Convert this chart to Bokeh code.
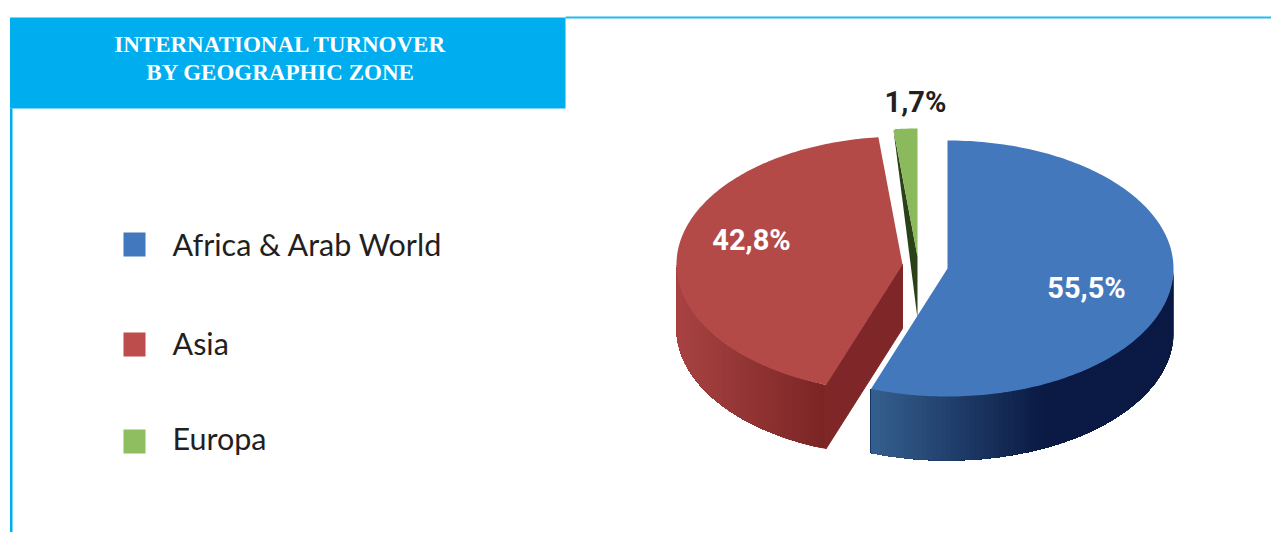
import numpy as np
from bokeh.plotting import figure
from bokeh.models import Range1d
from bokeh.core.properties import value
from bokeh.embed import file_html
from bokeh.resources import INLINE

# ---- data ----
categories = ["Africa & Arab World", "Asia", "Europa"]
shares = [55.5, 42.8, 1.7]
share_labels = ["55,5%", "42,8%", "1,7%"]
title_lines = ["INTERNATIONAL TURNOVER", "BY GEOGRAPHIC ZONE"]

# ---- styles ----
top_colors = ["#4478BD", "#B34A48", "#8ABA5C"]
legend_colors = ["#4279BE", "#BD4D4C", "#8FBE60"]
label_colors = ["#FFFFFF", "#FFFFFF", "#231F20"]
CYAN = "#00AEEF"

# layout in picture pixels; the figure's scales map 1:1 onto the picture
W, H = 1271, 532
A, B, DEPTH = 226, 128, 64
apex = [(947, 268), (902, 264), (917, 256)]
label_pos = [(1086, 287), (751, 239), (915, 101)]
legend_y = [244, 344, 441]
legend_text_y = [243, 342, 437]
grad_side = {0: ("#35608F", "#0A1A44", 872, 1045), 1: ("#A84343", "#7C2525", 677, 825)}

p = figure(width=W, height=H, output_backend="svg", toolbar_location=None,
           x_range=Range1d(0, W), y_range=Range1d(H, 0),
           min_border=0, outline_line_color=None, background_fill_color="white")
p.axis.visible = False
p.grid.visible = False

# frame
p.quad(left=[9.5], right=[565], top=[17], bottom=[108], fill_color=CYAN, line_color=None)
p.quad(left=[565], right=[W], top=[16], bottom=[18], fill_color="#29B9F0", line_color=None)
p.quad(left=[9.5], right=[12], top=[108], bottom=[H], fill_color=CYAN, line_color=None)


def rim(i, t):
    cx, cy = apex[i]
    return cx + A * np.sin(t), cy - B * np.cos(t)


def hexmix(c0, c1, f):
    a = np.array([int(c0[k:k + 2], 16) for k in (1, 3, 5)], float)
    b = np.array([int(c1[k:k + 2], 16) for k in (1, 3, 5)], float)
    m = a + (b - a) * min(max(f, 0), 1)
    return "#%02X%02X%02X" % tuple(int(round(v)) for v in m)


ends = np.cumsum(shares) / 100 * 2 * np.pi
starts = np.concatenate([[0], ends[:-1]])


def draw_side(i, t0, t1):
    # each strip runs on to the end of the wall and is painted over the last, so no seams show
    c0, c1, x0, x1 = grad_side[i]
    ts = np.linspace(t0, t1, 91)
    xs, ys, cs = [], [], []
    for n in range(89):
        seg = ts[n:]
        xa, ya = rim(i, seg)
        xs.append(np.r_[xa, xa[::-1]])
        ys.append(np.r_[ya, ya[::-1] + DEPTH])
        cs.append(hexmix(c0, c1, (xa[0] - x0) / (x1 - x0)))
    p.patches(xs, ys, fill_color=cs, line_color=None)


def draw_top(i):
    ts = np.linspace(starts[i], ends[i], 181)
    x, y = rim(i, ts)
    p.patch(np.r_[apex[i][0], x], np.r_[apex[i][1], y], fill_color=top_colors[i], line_color=None)


# Europa: thin slice with its dark cut face
gx, gy = rim(2, starts[2])
p.patch([gx, apex[2][0], apex[2][0]], [gy, apex[2][1], apex[2][1] + 62],
        fill_color="#2B4218", line_color=None)
draw_top(2)

# Asia
draw_side(1, starts[1], 1.5 * np.pi)
rx, ry = rim(1, starts[1])
p.patch([apex[1][0], rx, rx, apex[1][0]],
        [apex[1][1], ry, ry + DEPTH, apex[1][1] + DEPTH],
        fill_color="#7F2728", line_color="#7F2728", line_width=1)
draw_top(1)

# Africa & Arab World
draw_side(0, 0.5 * np.pi, ends[0])
draw_top(0)

# title
p.text(x=[280, 280], y=[44, 72], text=title_lines, text_color="white",
       text_font=value("Liberation Serif"), text_font_style="bold", text_font_size="23px",
       text_align="center", text_baseline="middle")

# legend
p.quad(left=[123] * 3, right=[145] * 3,
       top=[y - 12 for y in legend_y], bottom=[y + 12 for y in legend_y],
       fill_color=legend_colors, line_color=None)
p.text(x=[172] * 3, y=legend_text_y, text=categories, text_color="#231F20",
       text_font=value("Lato"), text_font_size="30.5px",
       text_align="left", text_baseline="middle")

# value labels
p.text(x=[q[0] for q in label_pos], y=[q[1] for q in label_pos], text=share_labels,
       text_color=label_colors, text_font=value("Roboto"),
       text_font_style="bold", text_font_size="29px",
       text_align="center", text_baseline="middle")

open("out.html", "w").write(file_html(p, INLINE))
